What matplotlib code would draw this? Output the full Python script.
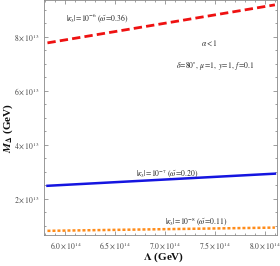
import matplotlib
matplotlib.use("Agg")
import matplotlib.pyplot as plt
import numpy as np

plt.rcParams['font.family'] = ['Liberation Serif', 'DejaVu Serif']
plt.rcParams['mathtext.fontset'] = 'stix'

# Data (Lambda in GeV, M_Delta in GeV)
lam = [5.82e14, 8.10e14]
m_k6 = [7.78e13, 9.19e13]   # |k3|=1e-6
m_k7 = [2.48e13, 2.93e13]   # |k3|=1e-7
m_k8 = [0.81e13, 0.93e13]   # |k3|=1e-8

xticks = [6.0e14, 6.5e14, 7.0e14, 7.5e14, 8.0e14]
xticklabels = [r"$6.0\times10^{14}$", r"$6.5\times10^{14}$", r"$7.0\times10^{14}$",
               r"$7.5\times10^{14}$", r"$8.0\times10^{14}$"]
yticks = [2e13, 4e13, 6e13, 8e13]
yticklabels = [r"$2\times10^{13}$", r"$4\times10^{13}$", r"$6\times10^{13}$", r"$8\times10^{13}$"]

fig = plt.figure(figsize=(2.8, 2.66), dpi=100)
ax = fig.add_axes([0.157, 0.117, 0.832, 0.883])

ax.plot(lam, m_k6, color='#ee1111', lw=2.0, ls=(0, (3.0, 1.5)))
ax.plot(lam, m_k7, color='#1515e0', lw=1.8, ls='-')
ax.plot(lam, m_k8, color='#ff8c1a', lw=1.8, ls=(0, (1.2, 0.8)))

ax.set_xlim(5.785e14, 8.12e14)
ax.set_ylim(0.66e13, 9.37e13)

ax.set_xticks(xticks)
ax.set_xticklabels(xticklabels)
ax.set_yticks(yticks)
ax.set_yticklabels(yticklabels)
ax.set_xticks(np.arange(5.8e14, 8.15e14, 0.1e14), minor=True)
ax.set_yticks(np.arange(1e13, 9.4e13, 0.5e13), minor=True)

ax.tick_params(which='both', direction='in', top=True, right=True, colors='#777777',
               labelcolor='#444444', labelsize=5.5, width=0.5)
ax.tick_params(which='major', length=3)
ax.tick_params(which='minor', length=1.6)
for s in ax.spines.values():
    s.set_color('#888888')
    s.set_linewidth(0.6)

tc = '#222222'
ax.text(0.23, 0.92, r"$|\kappa_3|\!=\!10^{-6}\ (\tilde{\omega}\!=\!0.36)$", transform=ax.transAxes,
        fontsize=5.5, color=tc, ha='center', va='center')
ax.text(0.71, 0.815, r"$\alpha<1$", transform=ax.transAxes,
        fontsize=5.5, color=tc, ha='center', va='center')
ax.text(0.737, 0.718, r"$\delta\!=\!80^{\circ},\ \mu\!=\!1,\ y\!=\!1,\ f\!=\!0.1$", transform=ax.transAxes,
        fontsize=5.5, color=tc, ha='center', va='center')
ax.text(0.53, 0.262, r"$|\kappa_3|\!=\!10^{-7}\ (\tilde{\omega}\!=\!0.20)$", transform=ax.transAxes,
        fontsize=5.5, color=tc, ha='center', va='center')
ax.text(0.655, 0.055, r"$|\kappa_3|\!=\!10^{-8}\ (\tilde{\omega}\!=\!0.11)$", transform=ax.transAxes,
        fontsize=5.5, color=tc, ha='center', va='center')

fig.text(0.585, 0.032, r"$\mathbf{\Lambda}$ (GeV)", fontsize=8, fontweight='bold',
         ha='center', va='center', color='#111111')
fig.text(0.03, 0.52, r"$\mathbfit{M}_{\mathbf{\Delta}}$ (GeV)", fontsize=8, fontweight='bold',
         ha='center', va='center', rotation=90, color='#111111')

fig.savefig("out.png", dpi=100)
